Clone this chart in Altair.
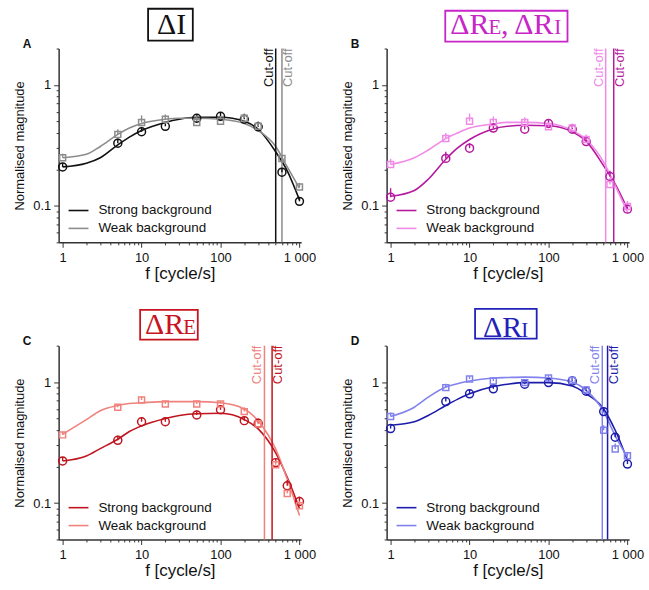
import altair as alt
import pandas as pd

SANS = "Liberation Sans"
SERIF = "Liberation Serif"
SERIES = ["Strong background", "Weak background"]

# ---- measured points (frequency in cycle/s, normalised magnitude, upper error) ----
FREQ_A = [1, 5, 10, 20, 50, 100, 200, 300, 600, 1000]
A_STRONG = [0.21, 0.33, 0.41, 0.455, 0.53, 0.55, 0.52, 0.45, 0.19, 0.109]
A_STRONG_HI = [0.225, 0.36, 0.45, 0.48, 0.57, 0.59, 0.57, 0.49, 0.205, 0.118]
A_WEAK = [0.25, 0.39, 0.49, 0.52, 0.49, 0.50, 0.53, 0.455, 0.246, 0.143]
A_WEAK_HI = [0.27, 0.43, 0.56, 0.57, 0.56, 0.55, 0.58, 0.50, 0.265, 0.155]

FREQ_B = [1, 5, 10, 20, 50, 100, 200, 300, 600, 1000]
B_STRONG = [0.118, 0.247, 0.30, 0.44, 0.43, 0.48, 0.43, 0.34, 0.175, 0.094]
B_STRONG_HI = [0.14, 0.28, 0.33, 0.48, 0.47, 0.52, 0.47, 0.37, 0.195, 0.103]
B_WEAK = [0.22, 0.36, 0.50, 0.49, 0.49, 0.45, 0.44, 0.354, 0.15, 0.099]
B_WEAK_HI = [0.245, 0.40, 0.58, 0.55, 0.54, 0.49, 0.48, 0.39, 0.17, 0.11]

FREQ_C = [1, 5, 10, 20, 50, 100, 200, 300, 500, 700, 1000]
C_STRONG = [0.223, 0.33, 0.47, 0.47, 0.535, 0.59, 0.48, 0.456, 0.216, 0.139, 0.103]
C_STRONG_HI = [0.24, 0.36, 0.51, 0.51, 0.58, 0.64, 0.52, 0.50, 0.235, 0.155, 0.113]
C_WEAK = [0.366, 0.62, 0.71, 0.66, 0.66, 0.66, 0.57, 0.45, 0.207, 0.12, 0.095]
C_WEAK_HI = [0.39, 0.66, 0.76, 0.70, 0.70, 0.70, 0.62, 0.49, 0.225, 0.13, 0.104]

FREQ_D = [1, 5, 10, 20, 50, 100, 200, 300, 500, 700, 1000]
D_STRONG = [0.413, 0.69, 0.80, 0.88, 0.96, 0.99, 1.02, 0.84, 0.57, 0.35, 0.21]
D_STRONG_HI = [0.44, 0.74, 0.86, 0.94, 1.02, 1.05, 1.08, 0.90, 0.62, 0.38, 0.225]
D_WEAK = [0.52, 0.90, 1.06, 1.02, 0.99, 1.08, 1.03, 0.86, 0.40, 0.28, 0.246]
D_WEAK_HI = [0.56, 0.97, 1.12, 1.09, 1.05, 1.14, 1.09, 0.92, 0.44, 0.31, 0.265]

# ---- fitted transfer curves ----
FIT_F = [1, 2, 3, 5, 7, 10, 20, 30, 50, 100, 200, 300, 500, 700, 1000]
A_FIT_STRONG = [0.21, 0.225, 0.25, 0.32, 0.37, 0.42, 0.49, 0.52, 0.54, 0.54, 0.50, 0.43, 0.28, 0.195, 0.112]
A_FIT_WEAK = [0.25, 0.267, 0.31, 0.39, 0.44, 0.48, 0.52, 0.53, 0.53, 0.52, 0.48, 0.42, 0.31, 0.21, 0.14]
B_FIT_STRONG = [0.12, 0.134, 0.166, 0.243, 0.30, 0.354, 0.433, 0.455, 0.464, 0.46, 0.41, 0.343, 0.214, 0.151, 0.094]
B_FIT_WEAK = [0.22, 0.25, 0.29, 0.36, 0.40, 0.44, 0.475, 0.49, 0.49, 0.48, 0.42, 0.354, 0.23, 0.147, 0.089]
C_FIT_STRONG = [0.223, 0.245, 0.282, 0.337, 0.39, 0.434, 0.50, 0.53, 0.548, 0.552, 0.49, 0.41, 0.26, 0.163, 0.09]
C_FIT_WEAK = [0.37, 0.49, 0.58, 0.64, 0.665, 0.675, 0.69, 0.69, 0.69, 0.675, 0.60, 0.477, 0.279, 0.158, 0.079]
D_FIT_STRONG = [0.44, 0.47, 0.53, 0.64, 0.72, 0.80, 0.92, 0.96, 0.99, 0.99, 0.93, 0.80, 0.60, 0.40, 0.227]
D_FIT_WEAK = [0.52, 0.62, 0.75, 0.91, 0.97, 1.02, 1.08, 1.09, 1.10, 1.08, 1.00, 0.854, 0.57, 0.36, 0.24]

# ---- cut-off frequencies [strong, weak] ----
A_CUT = [500, 600]
B_CUT = [670, 530]
C_CUT = [450, 360]
D_CUT = [560, 480]

X_TICKS = [1, 2, 3, 4, 5, 6, 7, 8, 9, 10, 20, 30, 40, 50, 60, 70, 80, 90,
           100, 200, 300, 400, 500, 600, 700, 800, 900, 1000]
Y_TICKS = [0.05, 0.06, 0.07, 0.08, 0.09, 0.1, 0.2, 0.3, 0.4, 0.5, 0.6, 0.7, 0.8, 0.9, 1, 2]

W, H = 244, 195
AXIS_COLOR = "#333333"

x_axis = alt.Axis(
    values=X_TICKS,
    labelExpr="datum.value == 1 ? '1' : datum.value == 10 ? '10' : datum.value == 100 ? '100' : datum.value == 1000 ? '1 000' : ''",
    tickSize={"condition": {"test": "indexof([1, 10, 100, 1000], datum.value) >= 0", "value": 5}, "value": 2.5},
    labelOverlap=False, labelFlush=False, grid=False,
    labelFont=SANS, labelFontSize=13, labelColor="#111", labelPadding=4,
    titleFont=SANS, titleFontSize=17, titleFontWeight="normal", titleColor="#111", titlePadding=1,
    domainColor=AXIS_COLOR, domainWidth=1.5, tickColor=AXIS_COLOR, tickWidth=1,
)
y_axis = alt.Axis(
    values=Y_TICKS,
    labelExpr="datum.value == 1 ? '1' : datum.value == 0.1 ? '0.1' : ''",
    tickSize={"condition": {"test": "datum.value == 1 || datum.value == 0.1", "value": 5}, "value": 2.5},
    labelOverlap=False, labelFlush=False, grid=False,
    labelFont=SANS, labelFontSize=13, labelColor="#111", labelPadding=3,
    titleFont=SANS, titleFontSize=13, titleFontWeight="normal", titleColor="#111", titlePadding=6,
    domainColor=AXIS_COLOR, domainWidth=1.5, tickColor=AXIS_COLOR, tickWidth=1,
)

X_SCALE = alt.Scale(type="log", domain=[0.89, 1050])
Y_SCALE = alt.Scale(type="log", domain=[0.05, 2])


def xenc():
    return alt.X("f:Q", scale=X_SCALE, axis=x_axis, title="f [cycle/s]")


def yenc(field="v"):
    return alt.Y(f"{field}:Q", scale=Y_SCALE, axis=y_axis, title="Normalised magnitude")


def panel(letter, colors, freq, strong, strong_hi, weak, weak_hi,
          fit_strong, fit_weak, cuts, left_series, title_parts, box, baseline, box_color):
    cscale = alt.Scale(domain=SERIES, range=colors)
    legend = alt.Legend(
        orient="none", legendX=9, legendY=152, title=None, padding=0,
        symbolType="stroke", symbolSize=400, symbolStrokeWidth=1.6,
        labelFont=SANS, labelFontSize=13.5, labelColor="#111", labelOffset=9,
        rowPadding=-4,
    )
    col = alt.Color("series:N", scale=cscale, legend=legend)

    fits = pd.DataFrame({
        "f": FIT_F * 2,
        "v": fit_strong + fit_weak,
        "series": [SERIES[0]] * len(FIT_F) + [SERIES[1]] * len(FIT_F),
    })
    pts = pd.DataFrame({
        "f": freq * 2,
        "v": strong + weak,
        "hi": strong_hi + weak_hi,
        "series": [SERIES[0]] * len(freq) + [SERIES[1]] * len(freq),
    })
    cut = pd.DataFrame({"f": cuts, "series": SERIES})
    cut_left = cut[cut["series"] == left_series]
    cut_right = cut[cut["series"] != left_series]

    lines = alt.Chart(fits).mark_line(interpolate="monotone", strokeWidth=1.6).encode(
        x=xenc(), y=yenc(), color=col
    )
    rules = alt.Chart(cut).mark_rule(strokeWidth=1.5).encode(x=xenc(), color=col)
    cut_txt_l = alt.Chart(cut_left).mark_text(
        angle=270, align="right", baseline="bottom", font=SANS, fontSize=13
    ).encode(x=xenc(), y=alt.value(0), text=alt.value("Cut-off"), color=col)
    cut_txt_r = alt.Chart(cut_right).mark_text(
        angle=270, align="right", baseline="top", font=SANS, fontSize=13
    ).encode(x=xenc(), y=alt.value(0), text=alt.value("Cut-off"), color=col)
    errs = alt.Chart(pts).mark_rule(strokeWidth=1.4).encode(
        x=xenc(), y=yenc(), y2="hi:Q", color=col
    )
    circles = alt.Chart(pts[pts["series"] == SERIES[0]]).mark_point(
        shape="circle", filled=False, size=64, strokeWidth=1.5, opacity=1
    ).encode(x=xenc(), y=yenc(), color=col)
    squares = alt.Chart(pts[pts["series"] == SERIES[1]]).mark_point(
        shape="square", filled=False, size=36, strokeWidth=1.5, opacity=1
    ).encode(x=xenc(), y=yenc(), color=col)

    one = pd.DataFrame({"k": [0]})
    frame = alt.Chart(one).mark_rect(fillOpacity=0, stroke=box_color, strokeWidth=1.8).encode(
        x=alt.value(box[0]), x2=alt.value(box[1]), y=alt.value(box[2]), y2=alt.value(box[3])
    )
    title_layers = [
        alt.Chart(one).mark_text(font=SERIF, fontSize=size, color=box_color,
                                 align="left", baseline="alphabetic").encode(
            x=alt.value(px), y=alt.value(baseline), text=alt.value(txt))
        for txt, px, size in title_parts
    ]
    tag = alt.Chart(one).mark_text(font=SANS, fontSize=12, fontWeight="bold", color="#111",
                                   align="left", baseline="alphabetic").encode(
        x=alt.value(-36), y=alt.value(-1), text=alt.value(letter))

    return alt.layer(lines, rules, cut_txt_l, cut_txt_r, errs, circles, squares,
                     frame, *title_layers, tag).properties(width=W, height=H)


BIG, SMALL = 30, 21

pA = panel("A", ["#111111", "#8c8c8c"], FREQ_A, A_STRONG, A_STRONG_HI, A_WEAK, A_WEAK_HI,
           A_FIT_STRONG, A_FIT_WEAK, A_CUT, SERIES[0],
           [("ΔI", 99, BIG)], (90, 135, -40, -8), -15, "#111111")

pB = panel("B", ["#b4199f", "#f08ae8"], FREQ_B, B_STRONG, B_STRONG_HI, B_WEAK, B_WEAK_HI,
           B_FIT_STRONG, B_FIT_WEAK, B_CUT, SERIES[1],
           [("ΔR", 64, BIG), ("E", 102.4, SMALL), (", ΔR", 115.2, BIG), ("I", 168.6, SMALL)],
           (59, 182, -38, -7), -15, "#c826c8")

pC = panel("C", ["#c0141e", "#f0827e"], FREQ_C, C_STRONG, C_STRONG_HI, C_WEAK, C_WEAK_HI,
           C_FIT_STRONG, C_FIT_WEAK, C_CUT, SERIES[1],
           [("ΔR", 87, BIG), ("E", 125.4, SMALL)], (82, 140, -36, -6), -12, "#c8141e")

pD = panel("D", ["#1c1caa", "#8282ee"], FREQ_D, D_STRONG, D_STRONG_HI, D_WEAK, D_WEAK_HI,
           D_FIT_STRONG, D_FIT_WEAK, D_CUT, SERIES[1],
           [("ΔR", 97, BIG), ("I", 135.4, SMALL)], (89, 151, -37, -7), -9, "#2222bb")

chart = alt.concat(
    pA, pB, pC, pD, columns=2, spacing={"row": 104, "column": 86}, bounds="flush"
).resolve_scale(color="independent").configure_view(stroke=None).properties(
    padding={"left": 13, "top": 6, "right": 5, "bottom": 5}, background="white"
)

chart.save("out.html", embed_options={"renderer": "svg", "actions": False})
